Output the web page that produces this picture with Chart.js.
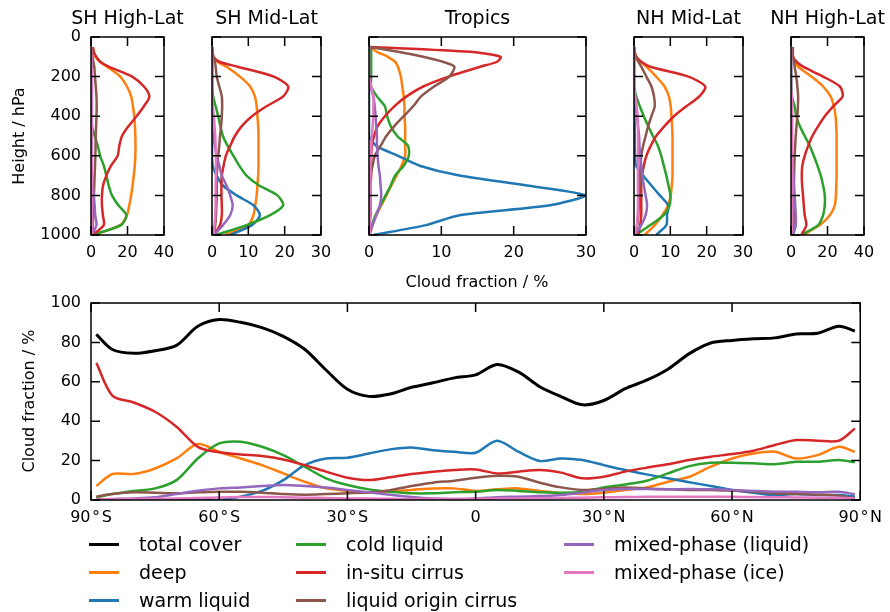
<!DOCTYPE html>
<html>
<head>
<meta charset="utf-8">
<script src="https://cdn.jsdelivr.net/npm/chart.js@4.4.1/dist/chart.umd.min.js"></script>
<style>
body { margin: 0; background: #fff; }
#wrap { position: relative; width: 890px; height: 612px; overflow: hidden; font-family: "DejaVu Sans", sans-serif; color: #000; }
#wrap canvas { position: absolute; left: 0; top: 0; }
.lbl { position: absolute; white-space: nowrap; transform: translate(-50%, -50%); }
.rot { transform: translate(-50%, -50%) rotate(-90deg); }
.key { position: absolute; height: 3px; width: 30px; }
.keytxt { position: absolute; white-space: nowrap; font-size: 19px; transform: translateY(-50%); }
</style>
</head>
<body>
<div id="wrap"></div>
<script>
// pressure levels (hPa) used by the five profile panels
const pressure = [50, 75, 100, 125, 150, 200, 250, 300, 350, 400, 450, 500, 550, 600, 650, 700, 750, 800, 850, 900, 950, 1000];

// profiles, cloud fraction in %
const shHigh = {
  deep:    [1, 1.5, 2.4, 5, 8.8, 16, 19.7, 22, 23, 23.7, 24.1, 24.3, 24.4, 24.3, 24, 23.4, 22.8, 22, 21, 19.7, 16, 1.5],
  warm:    [0, 0, 0, 0, 0, 0, 0, 0, 0, 0, 0, 0, 0, 0, 0, 0, 0, 0, 0.1, 0.3, 1, 0.5],
  cold:    [0, 0, 0, 0, 0, 0, 0, 0, 0, 0, 0.5, 2, 3.7, 5, 7, 8.4, 9.7, 11.5, 15, 19.4, 16.5, 0.5],
  insitu:  [1, 1.5, 2.9, 5, 9.7, 22.5, 29, 32, 29, 25, 20.6, 17, 15.5, 14.6, 11, 8.4, 6.6, 6, 6, 6.5, 7, 1],
  liqOrig: [0, 0.3, 0.8, 1.3, 1.8, 2.2, 2.6, 3, 3.1, 3, 2.8, 2.6, 2.5, 2.4, 2.2, 2, 1.8, 1.6, 1.4, 1.2, 1, 0.3],
  mixLiq:  [0, 0, 0, 0, 0, 0, 0, 0, 0, 0, 0, 0, 0, 0, 0, 0.5, 1, 1.5, 2, 2.3, 3, 0.5],
  mixIce:  [0, 0, 0.2, 0.3, 0.3, 0.5, 0.5, 0.5, 0.5, 0.5, 0.5, 0.5, 0.5, 0.5, 0.5, 0.5, 0.5, 0.5, 0.5, 0.5, 0.7, 0.2]
};
const shMid = {
  deep:    [0, 0.2, 0.4, 1.5, 4, 7.7, 10.5, 11.8, 12.3, 12.5, 12.7, 12.8, 12.8, 12.8, 12.8, 12.7, 12.5, 12.3, 11.9, 11.4, 10, 3.5],
  warm:    [0, 0, 0, 0, 0, 0, 0, 0, 0, 0, 0, 0, 0, 0, 0.2, 1.3, 3, 6.8, 11.4, 13.2, 11, 5],
  cold:    [0, 0, 0, 0, 0, 0, 0, 0.3, 1, 1.7, 2.3, 3, 4.3, 5.9, 7.5, 9.5, 13, 18, 19.6, 16, 9.5, 1],
  insitu:  [0, 0.1, 0.4, 2, 7, 17, 21, 19.6, 15, 11, 8.2, 6.3, 5, 3.8, 3.2, 2.7, 2.6, 2.6, 2.7, 2.7, 2.2, 0.5],
  liqOrig: [0, 0.1, 0.4, 0.8, 1, 1.3, 2, 2.7, 2.8, 2.7, 2.5, 2.2, 2, 1.7, 1.5, 1.3, 1.3, 1.3, 1.2, 1.1, 0.9, 0.5],
  mixLiq:  [0, 0, 0, 0, 0, 0, 0, 0, 0, 0, 0, 0.3, 0.8, 1.3, 2, 2.7, 4, 5, 5.7, 5, 3, 0.5],
  mixIce:  [0, 0, 0, 0, 0, 0, 0, 0, 0.2, 0.5, 0.7, 0.9, 1, 1.1, 1.1, 1.1, 1, 1, 1, 0.9, 0.7, 0.3]
};
const tropics = {
  deep:    [0, 1.1, 2.6, 3.6, 4, 4.4, 4.6, 4.8, 4.9, 4.9, 5, 5, 5, 5, 4.5, 3.8, 3.1, 2.4, 1.7, 1, 0.5, 0.1],
  warm:    [0, 0, 0, 0, 0, 0, 0, 0, 0, 0, 0, 0, 1, 4, 7, 12.5, 21.8, 29.9, 25, 12.5, 7.9, 0.6],
  cold:    [0.2, 0.3, 0.3, 0.3, 0.3, 0.3, 0.3, 1.1, 2.2, 2.5, 3, 3.9, 5.4, 5.5, 4.8, 3.6, 3, 2.3, 1.6, 0.9, 0.4, 0],
  insitu:  [0.2, 14, 18.2, 17.7, 15.4, 11, 7.5, 5.2, 3.5, 2.2, 1.2, 0.7, 0.4, 0.3, 0.3, 0.3, 0.2, 0.2, 0.2, 0.2, 0.1, 0.1],
  liqOrig: [0, 4, 7.5, 10.2, 11.8, 11.1, 9, 7.2, 6.1, 4.8, 3.5, 2.4, 1.6, 0.8, 0.5, 0.2, 0.1, 0.1, 0.1, 0.1, 0.1, 0.1],
  mixLiq:  [0, 0, 0, 0, 0, 0, 0.2, 0.6, 0.8, 0.9, 1, 1.1, 1.1, 1.2, 1.3, 1.5, 1.6, 1.7, 1.5, 1, 0.5, 0],
  mixIce:  [0, 0, 0, 0, 0, 0, 0.3, 0.6, 0.6, 0.6, 0.5, 0.4, 0.3, 0.3, 0.2, 0.2, 0.2, 0.2, 0.1, 0.1, 0.1, 0.1]
};
const nhMid = {
  deep:    [0, 0.2, 0.6, 1.8, 3.4, 6.1, 8.4, 9.6, 10.1, 10.3, 10.5, 10.6, 10.6, 10.6, 10.6, 10.6, 10.4, 10.1, 9.4, 7.8, 5.7, 2.9],
  warm:    [0, 0, 0, 0, 0, 0, 0, 0, 0, 0.1, 0.2, 0.2, 0.2, 0.3, 0.6, 2.5, 4.8, 7.1, 9.4, 9.1, 8.9, 6.1],
  cold:    [0, 0, 0, 0, 0, 0, 0, 0.6, 1.6, 2.7, 3.9, 5.2, 6.6, 7.5, 8.2, 8.9, 9.5, 10, 9.8, 8.2, 4.5, 0.5],
  insitu:  [0, 0.1, 0.6, 2, 4.5, 15, 19.6, 18, 14.4, 11, 8.4, 6.1, 4.6, 3.4, 2.7, 2.2, 2, 2, 2, 2, 1.7, 1.1],
  liqOrig: [0, 0.2, 0.4, 1.2, 2, 3.4, 4.8, 5.5, 5.7, 4.8, 3.9, 3.2, 2.5, 2, 1.8, 1.6, 1.5, 1.4, 1.3, 1.2, 0.9, 0.3],
  mixLiq:  [0, 0, 0, 0, 0, 0, 0, 0.3, 0.5, 0.8, 1.1, 1.4, 1.5, 1.7, 2, 2.3, 2.7, 3.2, 3.6, 3.2, 2, 0.3],
  mixIce:  [0, 0, 0, 0, 0, 0, 0, 0.3, 0.7, 1, 1.1, 1.1, 1.1, 1.1, 1.1, 1.1, 1.1, 1.1, 1.1, 1, 0.8, 0.2]
};
const nhHigh = {
  deep:    [1, 1, 1.1, 2, 3.9, 11.2, 17.6, 21.7, 23.5, 24.4, 24.8, 25, 25, 25, 25, 25, 24.8, 24.6, 24, 21.3, 15.8, 6.6],
  warm:    [0, 0, 0, 0, 0, 0, 0, 0, 0, 0, 0, 0, 0, 0, 0, 0, 0, 0, 0.2, 0.5, 2.5, 1],
  cold:    [0, 0, 0, 0, 0, 0, 0, 0.5, 2, 2.9, 4.8, 7.5, 10.3, 12.5, 14.5, 16.3, 17.6, 18.5, 18.5, 17.6, 14.9, 5.5],
  insitu:  [1, 1, 1.1, 3, 6.6, 17.6, 26.8, 28.3, 23.1, 18.5, 14.9, 11.7, 9.4, 7.5, 6.2, 5.9, 6.1, 6.6, 7, 7.5, 8.4, 5.7],
  liqOrig: [0.5, 0.7, 1.1, 1.6, 2, 2.9, 3.5, 3.9, 3.8, 3.5, 3, 2.6, 2.3, 2, 1.8, 1.7, 1.6, 1.5, 1.5, 1.5, 1.3, 0.5],
  mixLiq:  [0, 0, 0, 0, 0, 0, 0, 0, 0, 0, 0, 0, 0, 0.7, 1, 1.3, 1.6, 2, 2.3, 2.6, 2.6, 0.5],
  mixIce:  [0, 0, 0, 0, 0, 0, 0, 0.5, 0.7, 0.7, 0.7, 0.7, 0.7, 0.7, 0.7, 0.7, 0.7, 0.7, 0.7, 0.7, 0.7, 0.3]
};

// zonal means
const lat = [-88.75, -85, -80, -75, -70, -65, -60, -55, -50, -45, -40, -35, -30, -25, -20, -15, -10, -5, 0,
             5, 10, 15, 20, 25, 30, 35, 40, 45, 50, 55, 60, 65, 70, 75, 80, 85, 88.75];
const totalZonal   = [84.1, 76.4, 74.5, 75.8, 78.5, 88.2, 91.6, 90.2, 87.5, 83.1, 76.5, 66, 56.2, 52.6, 53.8, 57.2, 59.5, 62, 63.5,
                      68.8, 65, 57.5, 52.5, 48.3, 50.5, 56.5, 60.8, 66.4, 74.3, 79.7, 81, 81.8, 82.3, 84.3, 84.6, 88.2, 85.8];
const deepZonal    = [7.1, 13.2, 13.2, 16, 21.1, 28.4, 24.5, 21.1, 17.7, 13.5, 9.3, 5.9, 4.6, 3.7, 4.4, 5.1, 5.9, 5.9, 4.6,
                      5.4, 5.9, 4.6, 3.4, 3, 3.7, 5.1, 6.4, 9.3, 11.8, 16.9, 21.1, 23.6, 24.5, 21.1, 22.8, 27, 24.5];
const warmZonal    = [0, 0, 0, 0, 0, 0, 0, 1.7, 4.6, 10.1, 17.7, 21.1, 21.5, 23.6, 25.7, 26.7, 25.3, 24.5, 24,
                      30.1, 24.5, 19.8, 21.1, 20.3, 17.7, 15.2, 13, 11, 9, 7.1, 5.1, 3.7, 2.5, 3, 2.5, 2.5, 1.7];
const coldZonal    = [1.4, 3, 4.6, 5.9, 10.1, 21.1, 28.7, 29.6, 27, 22.8, 16.9, 11, 7.6, 5.4, 4.2, 3.4, 3.4, 3.9, 4.2,
                      5.1, 4.6, 3.9, 3.7, 4.2, 6.4, 7.9, 9.8, 13.5, 17.2, 18.9, 18.9, 18.6, 18.2, 19.4, 19.4, 20.3, 19.1];
const insituZonal  = [69.6, 53, 49.5, 44.8, 37.2, 27, 24.2, 23.1, 22.3, 20.6, 17.7, 14.4, 11.3, 10.1, 11.5, 13.2, 14.4, 15.2, 15.5,
                      13.5, 14.4, 15.2, 13.9, 11, 11.8, 14.4, 16.4, 18.2, 20.3, 22, 23.3, 25, 27.9, 30.4, 30.1, 30.1, 36.3];
const liqOrigZonal = [1.7, 3, 3.9, 3.7, 3.4, 3.9, 4.2, 4.2, 3.7, 3, 2.7, 3, 3.4, 3.9, 5, 7.1, 8.8, 9.8, 11.3,
                      12.3, 11.8, 8.8, 6.4, 5.1, 5.6, 6.4, 5.9, 5.4, 5.1, 5.1, 4.7, 4.2, 3.4, 3, 2.7, 2.2, 0.8];
const mixLiqZonal  = [0.3, 0.5, 0.8, 1.4, 3, 4.7, 5.9, 6.4, 7.1, 7.6, 7.1, 6.3, 5.1, 3.9, 2.7, 1.5, 0.7, 0.5, 0.8,
                      1.4, 1.7, 2, 2.5, 3.7, 5.1, 5.6, 5.6, 5.4, 5.6, 5.4, 5.1, 4.6, 4.2, 4.2, 3.9, 4.2, 2.9];
const mixIceZonal  = [0.3, 0.4, 0.5, 0.6, 0.8, 1, 1.3, 1.5, 1.5, 1.4, 1.2, 1, 0.8, 0.7, 0.6, 0.5, 0.5, 0.5, 0.6,
                      0.7, 0.8, 0.9, 1, 1.2, 1.4, 1.5, 1.6, 1.7, 1.7, 1.7, 1.6, 1.5, 1.4, 1.3, 1.2, 1.1, 0.8];

const kinds = ['deep', 'warm', 'cold', 'insitu', 'liqOrig', 'mixLiq', 'mixIce'];
const names = {
  total: 'total cover', deep: 'deep', warm: 'warm liquid', cold: 'cold liquid',
  insitu: 'in-situ cirrus', liqOrig: 'liquid origin cirrus',
  mixLiq: 'mixed-phase (liquid)', mixIce: 'mixed-phase (ice)'
};
const colors = {
  total: '#000000', deep: '#ff7f0e', warm: '#1f77b4', cold: '#2ca02c',
  insitu: '#d62728', liqOrig: '#8c564b', mixLiq: '#9467bd', mixIce: '#e377c2'
};

Chart.defaults.font.family = '"DejaVu Sans", sans-serif';
Chart.defaults.font.size = 16;
Chart.defaults.color = '#000';

const W = 890, H = 612, YW = 60, XH = 30, TICK = 9;
const wrap = document.getElementById('wrap');

// frame box and inward ticks on all four sides
const frameTicks = {
  id: 'frameTicks',
  afterDraw(chart) {
    const { ctx, chartArea: a, scales } = chart;
    ctx.save();
    ctx.strokeStyle = '#000';
    ctx.lineWidth = 1.5;
    ctx.beginPath();
    scales.x.ticks.forEach(t => {
      const px = scales.x.getPixelForValue(t.value);
      ctx.moveTo(px, a.bottom); ctx.lineTo(px, a.bottom - TICK);
      ctx.moveTo(px, a.top); ctx.lineTo(px, a.top + TICK);
    });
    scales.y.ticks.forEach(t => {
      const py = scales.y.getPixelForValue(t.value);
      ctx.moveTo(a.left, py); ctx.lineTo(a.left + TICK, py);
      ctx.moveTo(a.right, py); ctx.lineTo(a.right - TICK, py);
    });
    ctx.stroke();
    ctx.strokeRect(a.left, a.top, a.right - a.left, a.bottom - a.top);
    ctx.restore();
  }
};

function newCanvas() {
  const c = document.createElement('canvas');
  c.width = W; c.height = H;
  wrap.appendChild(c);
  return c;
}

function baseOptions(box) {
  return {
    responsive: false,
    animation: false,
    devicePixelRatio: 1,
    layout: { padding: { left: box.left - YW, right: W - box.right, top: box.top, bottom: H - box.bottom - XH } },
    plugins: { legend: { display: false }, tooltip: { enabled: false } }
  };
}

function axis(extra) {
  return Object.assign({
    type: 'linear',
    grid: { display: false, drawTicks: false },
    border: { display: false }
  }, extra);
}

const plain = v => String(v);

const panels = [
  { title: 'SH High-Lat', data: shHigh,  left: 91,  right: 164, max: 40, step: 20, yLabels: true },
  { title: 'SH Mid-Lat',  data: shMid,   left: 212, right: 321, max: 30, step: 10, yLabels: false },
  { title: 'Tropics',     data: tropics, left: 369, right: 586, max: 30, step: 10, yLabels: false },
  { title: 'NH Mid-Lat',  data: nhMid,   left: 634, right: 743, max: 30, step: 10, yLabels: false },
  { title: 'NH High-Lat', data: nhHigh,  left: 791, right: 864, max: 40, step: 20, yLabels: false }
];

panels.forEach(p => {
  const opts = baseOptions({ left: p.left, right: p.right, top: 37, bottom: 235 });
  opts.scales = {
    x: axis({ position: 'bottom', min: 0, max: p.max,
      ticks: { stepSize: p.step, padding: 8, maxRotation: 0, callback: plain },
      afterFit: s => { s.height = XH; } }),
    y: axis({ position: 'left', reverse: true, min: 0, max: 1000,
      ticks: { stepSize: 200, padding: 10, display: p.yLabels, callback: plain },
      afterFit: s => { s.width = YW; } })
  };
  new Chart(newCanvas(), {
    type: 'scatter',
    data: {
      datasets: kinds.map((k, i) => ({
        label: names[k],
        data: pressure.map((pr, j) => ({ x: p.data[k][j], y: pr })),
        showLine: true,
        borderColor: colors[k],
        borderWidth: 2.5,
        pointRadius: 0,
        tension: 0.25,
        order: kinds.length - i
      }))
    },
    options: opts,
    plugins: [frameTicks]
  });
});

// bottom panel
const zonal = [
  ['total', totalZonal], ['deep', deepZonal], ['warm', warmZonal], ['cold', coldZonal],
  ['insitu', insituZonal], ['liqOrig', liqOrigZonal], ['mixLiq', mixLiqZonal], ['mixIce', mixIceZonal]
];
const zOpts = baseOptions({ left: 91, right: 864, top: 303, bottom: 500 });
zOpts.scales = {
  x: axis({ position: 'bottom', min: -90, max: 90,
    ticks: { stepSize: 30, padding: 8, maxRotation: 0,
      callback: v => v === 0 ? '0' : Math.abs(v) + '\u200a°\u200a' + (v < 0 ? 'S' : 'N') },
    afterFit: s => { s.height = XH; } }),
  y: axis({ position: 'left', min: 0, max: 100,
    ticks: { stepSize: 20, padding: 10, callback: plain },
    afterFit: s => { s.width = YW; } })
};
new Chart(newCanvas(), {
  type: 'scatter',
  data: {
    datasets: zonal.map(([k, vals], i) => ({
      label: names[k],
      data: lat.map((la, j) => ({ x: la, y: vals[j] })),
      showLine: true,
      borderColor: colors[k],
      borderWidth: k === 'total' ? 3 : 2.5,
      pointRadius: 0,
      tension: 0.3,
      order: zonal.length - i
    }))
  },
  options: zOpts,
  plugins: [frameTicks]
});

// titles and axis labels
function label(text, x, y, size, rotate) {
  const d = document.createElement('div');
  d.className = rotate ? 'lbl rot' : 'lbl';
  d.style.left = x + 'px';
  d.style.top = y + 'px';
  d.style.fontSize = size + 'px';
  d.textContent = text;
  wrap.appendChild(d);
}
panels.forEach(p => label(p.title, (p.left + p.right) / 2, 17, 19, false));
label('Height / hPa', 18, 136, 16, true);
label('Cloud fraction / %', 477, 281, 16, false);
label('Cloud fraction / %', 28, 401, 16, true);

// legend, three columns
const legendOrder = ['total', 'deep', 'warm', 'cold', 'insitu', 'liqOrig', 'mixLiq', 'mixIce'];
const colX = [89, 296, 564];
const rowY = [544, 572, 600];
legendOrder.forEach((k, i) => {
  const x = colX[Math.floor(i / 3)], y = rowY[i % 3];
  const line = document.createElement('div');
  line.className = 'key';
  line.style.left = x + 'px';
  line.style.top = (y - 1.5) + 'px';
  line.style.background = colors[k];
  wrap.appendChild(line);
  const t = document.createElement('div');
  t.className = 'keytxt';
  t.style.left = (x + 50) + 'px';
  t.style.top = y + 'px';
  t.textContent = names[k];
  wrap.appendChild(t);
});
</script>
</body>
</html>
